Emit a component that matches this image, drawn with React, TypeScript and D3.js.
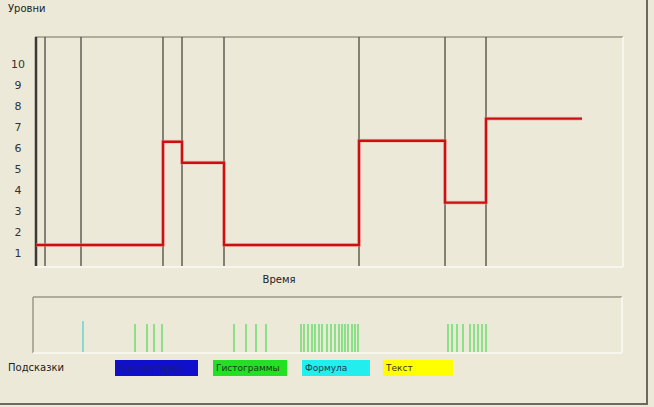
import React from "react";
import * as d3 from "d3";

// time units (arbitrary), levels
const markerTimes = [0, 4.5, 22.5, 63.5, 73, 94, 161.5, 204.5, 225];
const stepTimes = [0, 63.5, 73, 94, 161.5, 204.5, 225, 273];
const stepLevels = [1.33, 6.25, 5.25, 1.33, 6.3, 3.35, 7.35, 7.35];
const yTickLabels = [1, 2, 3, 4, 5, 6, 7, 8, 9, 10];

const formulaHints = [23.5];
const histogramHints = [
  49.5, 55.5, 59, 63,
  99, 105, 110, 115,
  132.5, 134, 136, 138, 139.5, 141.5, 143, 145.5, 147.5, 149.5, 151.5, 153, 154.5, 156, 158, 159.5, 161,
  206, 208, 210.5, 213.5, 217, 219, 221, 223, 225,
];

const legendItems = [
  { label: "Комментарии", color: "#1010cc", text: "#1a1a80" },
  { label: "Гистограммы", color: "#22e022", text: "#1a3a1a" },
  { label: "Формула", color: "#22eeee", text: "#1a3a4a" },
  { label: "Текст", color: "#ffff00", text: "#3a3a10" },
];

const W = 654;
const H = 407;
const BG = "#ECE9D8";
const FONT = "Tahoma, 'DejaVu Sans', 'Liberation Sans', sans-serif";

export default function App() {
  const x = d3.scaleLinear().domain([0, 293]).range([36, 622]);
  const y = d3.scaleLinear().domain([1, 10]).range([252, 63]);
  const line = d3
    .line<number>()
    .x((_, i) => x(stepTimes[i]))
    .y((d) => y(d))
    .curve(d3.curveStepAfter);

  const legendX = [115, 213, 302, 383];
  const legendW = [83, 74, 68, 70];

  return (
    <svg
      width={W}
      height={H}
      style={{ position: "absolute", left: 0, top: 0, background: BG }}
      fontFamily={FONT}
    >
      <rect x={0} y={0} width={W} height={H} fill={BG} />
      {/* outer frame */}
      <line x1={647} y1={0} x2={647} y2={405} stroke="#6a6a60" strokeWidth={2} />
      <line x1={0} y1={404} x2={648} y2={404} stroke="#6a6a60" strokeWidth={2} />

      <text x={8} y={12} fontSize={10} fill="#222">Уровни</text>

      {/* top panel frame */}
      <line x1={35} y1={37} x2={623} y2={37} stroke="#9a9888" strokeWidth={1.5} />
      <line x1={623} y1={37} x2={623} y2={267} stroke="#fbfaf4" strokeWidth={1.5} />
      <line x1={35} y1={267} x2={623} y2={267} stroke="#fbfaf4" strokeWidth={1.5} />

      {/* y labels */}
      {yTickLabels.map((v) => (
        <text
          key={v}
          x={18}
          y={y(v) + 1.5}
          fontSize={11}
          fill="#333"
          textAnchor="middle"
          dominantBaseline="middle"
        >
          {v}
        </text>
      ))}

      {/* vertical markers */}
      {markerTimes.map((t, i) => (
        <line
          key={i}
          x1={x(t)}
          x2={x(t)}
          y1={37}
          y2={266}
          stroke={i === 0 ? "#3a3a32" : "#55554a"}
          strokeWidth={i === 0 ? 2.5 : 1.4}
        />
      ))}

      {/* step line */}
      <path d={line(stepLevels) || ""} fill="none" stroke="#f4a0a0" strokeWidth={4} opacity={0.5} />
      <path d={line(stepLevels) || ""} fill="none" stroke="#cc1010" strokeWidth={2.4} />

      <text x={279} y={283} fontSize={10} fill="#222" textAnchor="middle">Время</text>

      {/* bottom panel */}
      <line x1={33} y1={297} x2={622} y2={297} stroke="#9a9888" strokeWidth={1.5} />
      <line x1={33} y1={297} x2={33} y2={353} stroke="#9a9888" strokeWidth={1.5} />
      <line x1={33} y1={353} x2={622} y2={353} stroke="#fbfaf4" strokeWidth={1.5} />
      <line x1={622} y1={297} x2={622} y2={353} stroke="#fbfaf4" strokeWidth={1.5} />

      {histogramHints.map((t, i) => (
        <line key={"h" + i} x1={x(t)} x2={x(t)} y1={324} y2={352} stroke="#7fe07f" strokeWidth={1.8} />
      ))}
      {formulaHints.map((t, i) => (
        <line key={"f" + i} x1={x(t)} x2={x(t)} y1={321} y2={352} stroke="#80d8d0" strokeWidth={1.8} />
      ))}

      <text x={8} y={371} fontSize={10} fill="#222">Подсказки</text>
      {legendItems.map((it, i) => (
        <g key={it.label}>
          <rect x={legendX[i]} y={360} width={legendW[i]} height={16} fill={it.color} />
          <text x={legendX[i] + 3} y={371} fontSize={9} fill={it.text}>
            {it.label}
          </text>
        </g>
      ))}
    </svg>
  );
}
